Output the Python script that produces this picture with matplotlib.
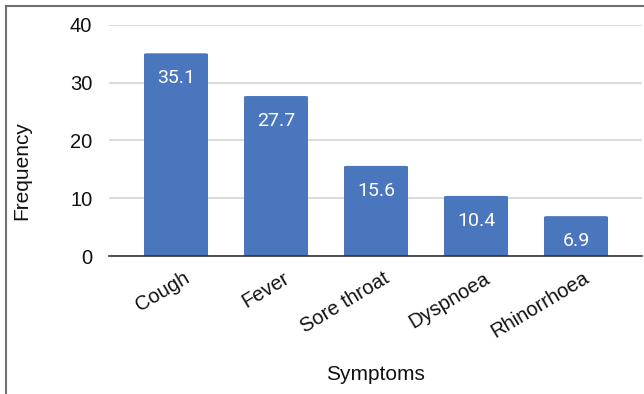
import matplotlib
matplotlib.use("Agg")
import matplotlib.pyplot as plt
import matplotlib.transforms as mtransforms
from matplotlib.patches import FancyBboxPatch
from matplotlib.lines import Line2D

symptoms = ["Cough", "Fever", "Sore throat", "Dyspnoea", "Rhinorrhoea"]
frequency = [35.1, 27.7, 15.6, 10.4, 6.9]
yticks = [0, 10, 20, 30, 40]

BAR_COLOR = "#4a76be"
DPI = 100
fig = plt.figure(figsize=(6.44, 3.94), dpi=DPI)
W, H = 644, 394

# plot area in pixel terms
left, right, top, bottom = 109, 642, 25, 256
ax = fig.add_axes([left / W, 1 - bottom / H, (right - left) / W, (bottom - top) / H])

x = list(range(len(symptoms)))
width = 0.64
bars = ax.bar(x, frequency, width=width, color=BAR_COLOR, zorder=3)

# soften the top corners of each bar
for rect in bars:
    rect.set_visible(False)
    bx, by = rect.get_x(), rect.get_y()
    bw, bh = rect.get_width(), rect.get_height()
    p = FancyBboxPatch((bx, by), bw, bh,
                       boxstyle="round,pad=0,rounding_size=0.03",
                       mutation_aspect=5.0,
                       facecolor=BAR_COLOR, edgecolor="none", zorder=3)
    ax.add_patch(p)
    # square off the bottom corners
    ax.bar(bx + bw / 2, min(bh, 2), width=bw, color=BAR_COLOR, zorder=3)

for xi, v in zip(x, frequency):
    ax.annotate(f"{v}", (xi, v), xytext=(0, -18), textcoords="offset points",
                ha="center", va="center", color="white", fontsize=14,
                family="Roboto", zorder=4)

ax.set_xlim(-0.67, 4.66)
ax.set_ylim(0, 40)
ax.set_yticks(yticks)
ax.set_yticklabels([str(t) for t in yticks], family="Liberation Sans",
                   fontsize=14.5, color="#111111")
ax.tick_params(axis="y", length=0, pad=12)
ax.tick_params(axis="x", length=0, pad=9)

ax.set_xticks(x)
ax.set_xticklabels(symptoms, rotation=31, ha="right", va="top",
                   rotation_mode="anchor", family="Liberation Sans",
                   fontsize=14.5, color="#111111")
offset = mtransforms.ScaledTranslation(7 / DPI, 0, fig.dpi_scale_trans)
for lbl in ax.get_xticklabels():
    lbl.set_transform(lbl.get_transform() + offset)

ax.grid(axis="y", color="#d4d4d4", linewidth=1.2, zorder=0)
for s in ["top", "right", "left"]:
    ax.spines[s].set_visible(False)
ax.spines["bottom"].set_color("#333333")
ax.spines["bottom"].set_linewidth(1.2)
ax.spines["bottom"].set_zorder(5)

fig.text(375 / W, 1 - 375 / H, "Symptoms", ha="center", va="center",
         family="Liberation Sans", fontsize=15, color="#111111")
fig.text(22 / W, 1 - 171 / H, "Frequency", ha="center", va="center",
         rotation=90, family="Liberation Sans", fontsize=15, color="#111111")

# outer frame (left and top edges)
fig.add_artist(Line2D([5.5 / W, 5.5 / W], [0, 1 - 6 / H], color="#707070",
                      linewidth=1.5, transform=fig.transFigure))
fig.add_artist(Line2D([5.5 / W, 1], [1 - 6 / H, 1 - 6 / H], color="#707070",
                      linewidth=1.5, transform=fig.transFigure))

fig.savefig("out.png", dpi=DPI, facecolor="white")
